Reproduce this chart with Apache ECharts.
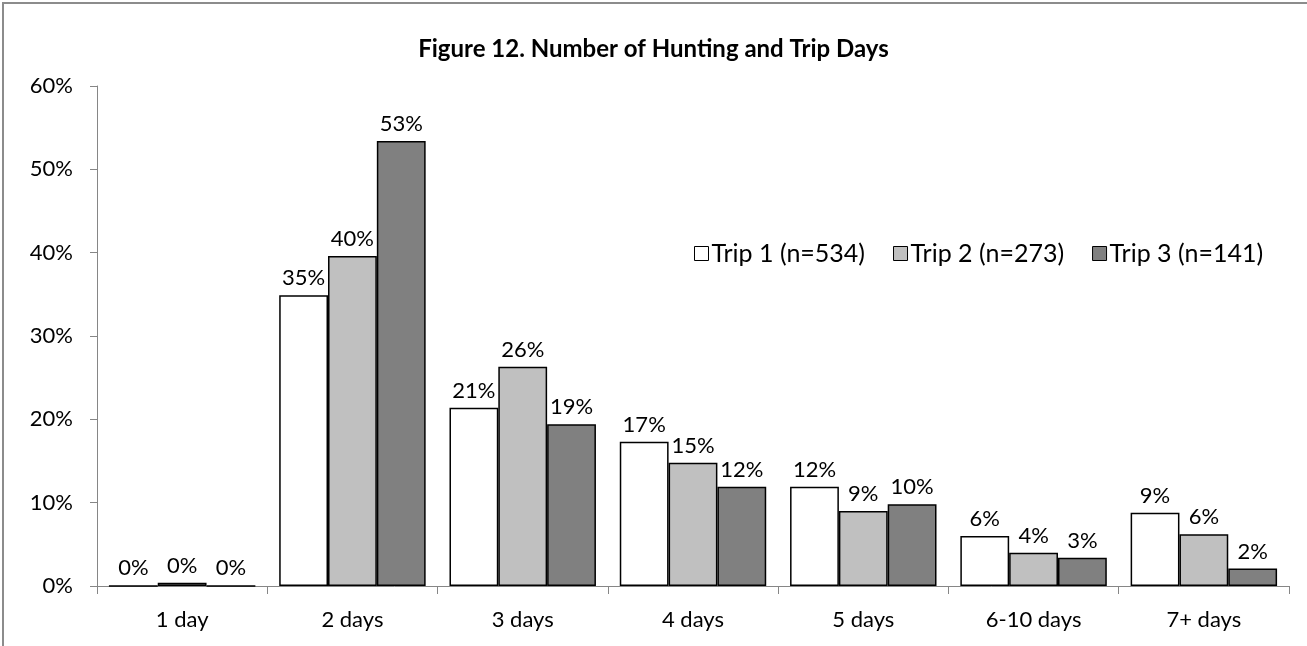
<!DOCTYPE html>
<html>
<head>
<meta charset="utf-8">
<script src="https://cdn.jsdelivr.net/npm/echarts@6/dist/echarts.min.js"></script>
<style>
  html, body { margin: 0; padding: 0; background: #fff; }
  .frame {
    position: absolute; left: 2px; top: 2px; width: 1310px; height: 650px;
    border-left: 2px solid #8c8c8c; border-top: 2px solid #8c8c8c;
    box-sizing: border-box;
  }
  #chart { position: absolute; left: 0; top: 0; width: 1307px; height: 646px; }
</style>
</head>
<body>
<div class="frame"></div>
<div id="chart"></div>
<script>
// categories and series values (percent)
const categories = ['1 day', '2 days', '3 days', '4 days', '5 days', '6-10 days', '7+ days']
const trip1 = [0, 34.9, 21.4, 17.3, 11.9, 6.0, 8.8]
const trip2 = [0.4, 39.6, 26.3, 14.8, 9.0, 4.0, 6.2]
const trip3 = [0, 53.4, 19.4, 11.9, 9.8, 3.4, 2.1]
const seriesNames = ['Trip 1 (n=534)', 'Trip 2 (n=273)', 'Trip 3 (n=141)']
const seriesColors = ['#ffffff', '#c0c0c0', '#808080']

const font = 'Lato, "Open Sans", sans-serif'
const fs = 22
const chart = echarts.init(document.getElementById('chart'))

const makeSeries = (name, data, color) => ({
  name: name,
  type: 'bar',
  data: data,
  barGap: '0%',
  barCategoryGap: '14%',
  itemStyle: { color: color, borderColor: '#000', borderWidth: 1.5 },
  label: {
    show: true,
    position: 'top',
    distance: 6,
    color: '#000',
    fontFamily: font,
    fontSize: fs,
    formatter: p => Math.round(p.value) + '%'
  }
})

chart.setOption({
  animation: false,
  textStyle: { fontFamily: font },
  title: {
    text: 'Figure 12. Number of Hunting and Trip Days',
    left: 'center',
    top: 32,
    textStyle: { fontFamily: font, fontSize: 24, fontWeight: 'bold', color: '#000' }
  },
  legend: {
    data: seriesNames,
    left: 689,
    top: 236,
    icon: 'rect',
    itemWidth: 14,
    itemHeight: 14,
    itemGap: 28,
    textStyle: { fontFamily: font, fontSize: 25, color: '#000', padding: [0, 0, 0, -2] },
    itemStyle: { borderColor: '#000', borderWidth: 1 }
  },
  grid: { left: 97, right: 18, top: 86, bottom: 60, containLabel: false },
  xAxis: {
    type: 'category',
    data: categories,
    axisLine: { lineStyle: { color: '#868686', width: 1 } },
    axisTick: { show: true, length: 8, lineStyle: { color: '#868686' } },
    axisLabel: { color: '#000', fontSize: fs, fontFamily: font, margin: 23 }
  },
  yAxis: {
    type: 'value',
    min: 0,
    max: 60,
    interval: 10,
    splitLine: { show: false },
    axisLine: { show: true, lineStyle: { color: '#868686', width: 1 } },
    axisTick: { show: true, length: 7, lineStyle: { color: '#868686' } },
    axisLabel: { color: '#000', fontSize: fs, fontFamily: font, margin: 24, formatter: '{value}%' }
  },
  series: [
    makeSeries(seriesNames[0], trip1, seriesColors[0]),
    makeSeries(seriesNames[1], trip2, seriesColors[1]),
    makeSeries(seriesNames[2], trip3, seriesColors[2])
  ]
})
</script>
</body>
</html>
